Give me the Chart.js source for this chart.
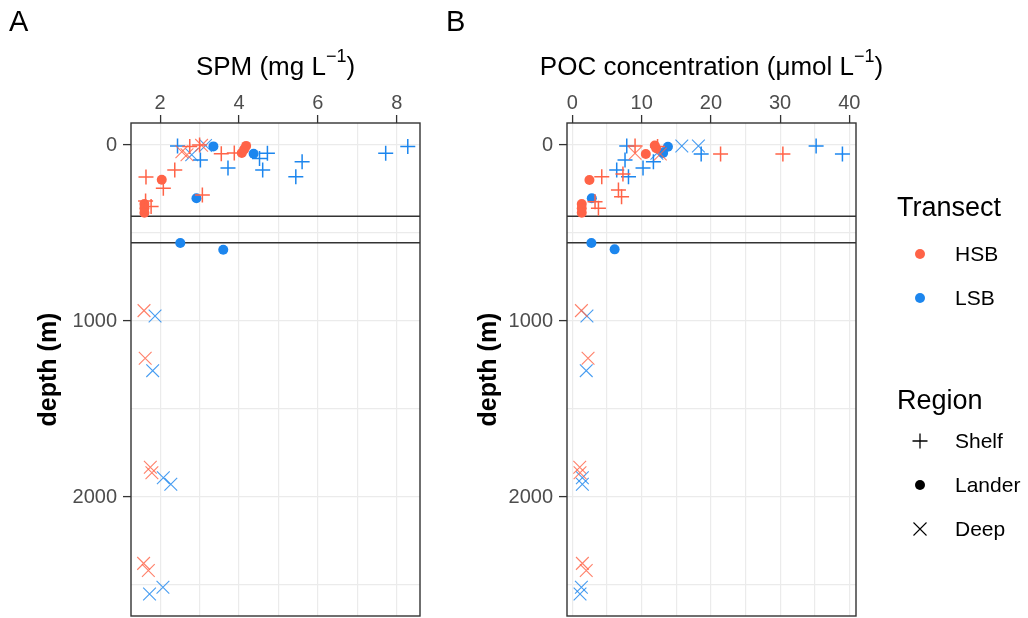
<!DOCTYPE html>
<html>
<head>
<meta charset="utf-8">
<script src="https://cdn.jsdelivr.net/npm/chart.js@4.4.1/dist/chart.umd.min.js"></script>
<style>
  body { margin: 0; background: #fff; width: 1028px; height: 618px; position: relative; overflow: hidden;
         font-family: "Liberation Sans", Arial, sans-serif; }
  canvas { position: absolute; top: 0; }
  #chartA { left: 0; }
  #chartB { left: 440px; }
  .tag { position: absolute; top: 7px; font-size: 29px; line-height: 29px; color: #000; }
  .ltitle { position: absolute; left: 897px; font-size: 27px; line-height: 30px; color: #000; }
  .lrow { position: absolute; left: 910px; height: 24px; line-height: 24px; font-size: 21px; color: #000; }
  .lrow svg { position: absolute; left: 0; top: 2px; }
  .lrow span { position: absolute; left: 45px; top: 0; white-space: nowrap; }
</style>
</head>
<body>
<canvas id="chartA" width="440" height="618"></canvas>
<canvas id="chartB" width="588" height="618"></canvas>
<div class="tag" style="left:9px">A</div>
<div class="tag" style="left:446px">B</div>
<div id="legend"></div>
<script>
// depth axis (m), shared by both panels
const depthGrid = [0, 500, 1000, 1500, 2000, 2500];
const depthLabels = [0, 1000, 2000];
const depthMin = -125, depthMax = 2676;
const hlineDepths = [405, 555];

// panel A: SPM (mg L-1), [value, depth]
const spmGrid = [2, 3, 4, 5, 6, 7, 8];
const spmLabels = [2, 4, 6, 8];
const spmHsbShelf = [[2.75, 8], [3.0, 0], [3.55, 50], [3.88, 45], [2.37, 142], [1.64, 182], [2.08, 246], [3.07, 284], [1.63, 318], [1.77, 350]];
const spmHsbLander = [[4.18, 5], [4.13, 25], [4.07, 45], [2.04, 197], [1.6, 335], [1.6, 360], [1.6, 385]];
const spmHsbDeep = [[2.55, 38], [2.68, 55], [3.05, 2], [1.59, 941], [1.62, 1212], [1.75, 1831], [1.79, 1862], [1.58, 2377], [1.7, 2418]];
const spmLsbShelf = [[2.44, 6], [3.02, 85], [3.72, 130], [4.52, 76], [4.72, 47], [4.6, 142], [5.6, 95], [5.44, 180], [7.72, 47], [8.28, 8]];
const spmLsbLander = [[3.35, 8], [4.37, 50], [2.92, 303], [2.51, 557], [3.6, 595]];
const spmLsbDeep = [[2.8, 55], [3.15, 3], [1.87, 972], [1.81, 1282], [2.08, 1890], [2.27, 1928], [2.07, 2513], [1.73, 2551]];

// panel B: POC concentration (umol L-1), [value, depth]
const pocGrid = [0, 5, 10, 15, 20, 25, 30, 35, 40];
const pocLabels = [0, 10, 20, 30, 40];
const pocHsbShelf = [[9.05, 5], [12.3, 8], [21.4, 51], [30.4, 51], [7.3, 165], [4.24, 180], [6.65, 256], [7.1, 294], [3.27, 322], [3.76, 360]];
const pocHsbLander = [[11.9, 3], [12.1, 18], [10.6, 51], [2.46, 199], [1.35, 335], [1.35, 360], [1.35, 385]];
const pocHsbDeep = [[9.05, 47], [12.7, 51], [1.3, 941], [2.26, 1212], [1.06, 1831], [1.1, 1862], [1.44, 2377], [2.0, 2418]];
const pocLsbShelf = [[7.85, 6], [18.6, 51], [35.2, 6], [39.0, 51], [7.6, 85], [6.4, 142], [8.1, 180], [10.2, 130], [11.7, 95]];
const pocLsbLander = [[13.8, 10], [13.1, 45], [2.8, 303], [2.74, 557], [6.1, 593]];
const pocLsbDeep = [[15.8, 6], [18.2, 6], [12.2, 47], [2.1, 972], [2.0, 1282], [1.44, 1890], [1.44, 1928], [1.3, 2513], [1.1, 2551]];

const transects = ["HSB", "LSB"];
const regions = ["Shelf", "Lander", "Deep"];
const colors = { HSB: "#FF6347", LSB: "#1C86EE" };
const shapes = {
  Shelf: { pointStyle: "cross", radius: 7.5, width: 1.5 },
  Lander: { pointStyle: "circle", radius: 5, width: 0 },
  Deep: { pointStyle: "crossRot", radius: 9, width: 1.1 }
};

const FONT = '"Liberation Sans", Arial, sans-serif';
Chart.defaults.font.family = FONT;
Chart.defaults.animation = false;

const panelPlugin = {
  id: "panelBox",
  beforeDatasetsDraw(chart) {
    const { ctx, chartArea: a, scales: { y } } = chart;
    ctx.save();
    ctx.strokeStyle = "#333";
    ctx.lineWidth = 1.4;
    hlineDepths.forEach(d => {
      const py = y.getPixelForValue(d);
      ctx.beginPath();
      ctx.moveTo(a.left, py);
      ctx.lineTo(a.right, py);
      ctx.stroke();
    });
    ctx.restore();
  },
  afterDatasetsDraw(chart) {
    const { ctx, chartArea: a } = chart;
    ctx.save();
    ctx.strokeStyle = "#333";
    ctx.lineWidth = 1.4;
    ctx.strokeRect(a.left, a.top, a.right - a.left, a.bottom - a.top);
    ctx.restore();
  }
};

// x title with a plotmath-like superscript, centred on the panel, not squeezed
function titlePlugin(parts) {
  return {
    id: "xTitle",
    afterDraw(chart) {
      const { ctx, chartArea: a } = chart;
      const fontFor = p => p.sup ? `18px ${FONT}` : `26px ${FONT}`;
      ctx.save();
      ctx.fillStyle = "#000";
      ctx.textBaseline = "alphabetic";
      ctx.textAlign = "left";
      const widths = parts.map(p => { ctx.font = fontFor(p); return ctx.measureText(p.text).width; });
      let x = (a.left + a.right) / 2 - widths.reduce((s, w) => s + w, 0) / 2;
      parts.forEach((p, i) => {
        ctx.font = fontFor(p);
        ctx.fillText(p.text, x, p.sup ? 62 : 75);
        x += widths[i];
      });
      ctx.restore();
    }
  };
}

function makeDatasets(groups) {
  const out = [];
  transects.forEach(t => {
    regions.forEach(r => {
      const s = shapes[r];
      out.push({
        label: `${t} ${r}`,
        data: groups[t][r].map(([x, y]) => ({ x, y })),
        pointStyle: s.pointStyle,
        pointRadius: s.radius,
        pointHoverRadius: s.radius,
        pointBorderWidth: s.width,
        pointBorderColor: r === "Deep" ? colors[t] + "D0" : colors[t],
        pointBackgroundColor: colors[t]
      });
    });
  });
  return out;
}

function makeChart(id, cfg) {
  const gridColor = "#EBEBEB";
  return new Chart(document.getElementById(id), {
    type: "scatter",
    data: { datasets: makeDatasets(cfg.groups) },
    plugins: [panelPlugin, titlePlugin(cfg.xTitle)],
    options: {
      responsive: false,
      layout: { autoPadding: false, padding: { left: 0, right: cfg.padRight, top: 0, bottom: 2 } },
      plugins: { legend: { display: false }, tooltip: { enabled: false } },
      scales: {
        x: {
          type: "linear",
          position: "top",
          min: cfg.xMin,
          max: cfg.xMax,
          afterBuildTicks: axis => { axis.ticks = cfg.xGrid.map(value => ({ value })); },
          afterFit: axis => { axis.height = 123; axis.paddingLeft = 0; axis.paddingRight = 0; },
          ticks: {
            autoSkip: false,
            maxRotation: 0,
            padding: 0,
            color: "#4D4D4D",
            font: { size: 20 },
            callback: v => cfg.xLabels.includes(v) ? String(v) : ""
          },
          grid: {
            color: gridColor,
            lineWidth: 1.2,
            tickLength: 8,
            tickWidth: 1.3,
            tickColor: c => (c.tick && cfg.xLabels.includes(c.tick.value)) ? "#333" : "rgba(0,0,0,0)"
          },
          border: { display: false },
          title: { display: false }
        },
        y: {
          type: "linear",
          reverse: true,
          min: depthMin,
          max: depthMax,
          afterBuildTicks: axis => { axis.ticks = depthGrid.map(value => ({ value })); },
          afterFit: axis => { axis.width = cfg.yWidth; axis.paddingTop = 0; axis.paddingBottom = 0; },
          ticks: {
            autoSkip: false,
            padding: 6,
            color: "#4D4D4D",
            font: { size: 20 },
            callback: v => depthLabels.includes(v) ? String(v) : ""
          },
          grid: {
            color: gridColor,
            lineWidth: 1.2,
            tickLength: 8,
            tickWidth: 1.3,
            tickColor: c => (c.tick && depthLabels.includes(c.tick.value)) ? "#333" : "rgba(0,0,0,0)"
          },
          border: { display: false },
          title: { display: true, text: "depth (m)", color: "#000", font: { size: 25, weight: "bold" }, padding: { top: 34, bottom: 0 } }
        }
      }
    }
  });
}

makeChart("chartA", {
  xTitle: [{ text: "SPM (mg L" }, { text: "\u22121", sup: true }, { text: ")" }],
  xMin: 1.26, xMax: 8.59,
  xGrid: spmGrid, xLabels: spmLabels,
  yWidth: 131, padRight: 20,
  groups: {
    HSB: { Shelf: spmHsbShelf, Lander: spmHsbLander, Deep: spmHsbDeep },
    LSB: { Shelf: spmLsbShelf, Lander: spmLsbLander, Deep: spmLsbDeep }
  }
});

makeChart("chartB", {
  xTitle: [{ text: "POC concentration (\u03BCmol L" }, { text: "\u22121", sup: true }, { text: ")" }],
  xMin: -0.78, xMax: 40.96,
  xGrid: pocGrid, xLabels: pocLabels,
  yWidth: 127, padRight: 172,
  groups: {
    HSB: { Shelf: pocHsbShelf, Lander: pocHsbLander, Deep: pocHsbDeep },
    LSB: { Shelf: pocLsbShelf, Lander: pocLsbLander, Deep: pocLsbDeep }
  }
});

// legend (HTML)
const symbol = {
  dot: c => `<circle cx="10" cy="10" r="5" fill="${c}"/>`,
  Shelf: () => `<path d="M2.5 10H17.5M10 2.5V17.5" stroke="#000" stroke-width="1.3"/>`,
  Lander: () => `<circle cx="10" cy="10" r="5" fill="#000"/>`,
  Deep: () => `<path d="M3.5 3.5L16.5 16.5M16.5 3.5L3.5 16.5" stroke="#000" stroke-width="1.1"/>`
};
const legendHtml = [];
legendHtml.push(`<div class="ltitle" style="top:192px">Transect</div>`);
transects.forEach((t, i) => {
  const cy = 254 + i * 44;
  legendHtml.push(`<div class="lrow" style="top:${cy - 12}px"><svg width="20" height="20">${symbol.dot(colors[t])}</svg><span>${t}</span></div>`);
});
legendHtml.push(`<div class="ltitle" style="top:385px">Region</div>`);
regions.forEach((r, i) => {
  const cy = 441 + i * 44;
  legendHtml.push(`<div class="lrow" style="top:${cy - 12}px"><svg width="20" height="20">${symbol[r]()}</svg><span>${r}</span></div>`);
});
document.getElementById("legend").innerHTML = legendHtml.join("");
</script>
</body>
</html>
